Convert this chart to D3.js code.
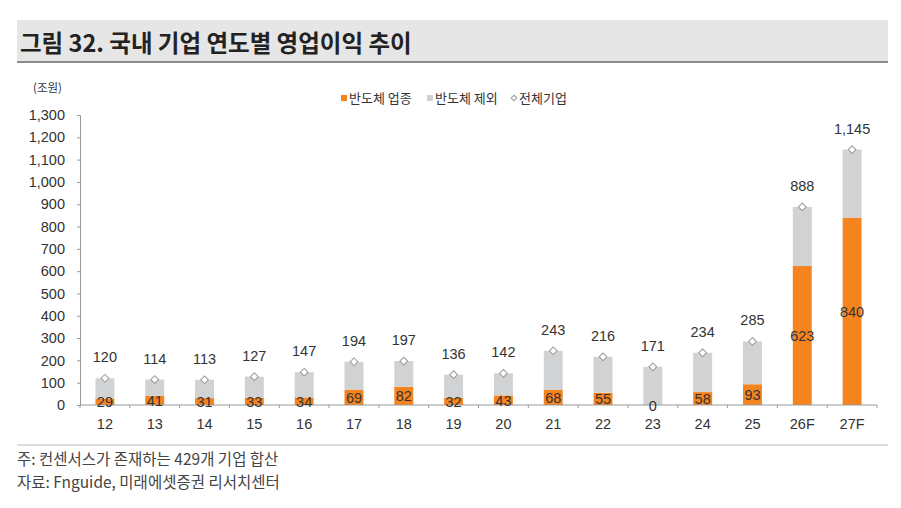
<!DOCTYPE html>
<html>
<head>
<meta charset="utf-8">
<script src="https://cdn.jsdelivr.net/npm/d3@7"></script>
<style>
  body { margin: 0; background: #fff; }
  svg { display: block; font-family: "Noto Sans CJK KR", "Liberation Sans", sans-serif; }
</style>
</head>
<body>
<div class="dataviz"><svg></svg></div>
<script>
// 국내 기업 연도별 영업이익 (조원)
const years = ["12","13","14","15","16","17","18","19","20","21","22","23","24","25","26F","27F"];
const semi  = [29, 41, 31, 33, 34, 69, 82, 32, 43, 68, 55, 0, 58, 93, 623, 840];   // 반도체 업종
const excl  = [91, 73, 82, 94, 113, 125, 115, 104, 99, 175, 161, 171, 176, 192, 265, 305]; // 반도체 제외
const total = [120, 114, 113, 127, 147, 194, 197, 136, 142, 243, 216, 171, 234, 285, 888, 1145]; // 전체기업
const yTicks = d3.range(0, 1301, 100);

const width = 901, height = 508;
const margin = {top: 115, right: 24, bottom: 103, left: 80};

const orange = "#F6841E", grey = "#D1D2D4";
const numFont = "'Liberation Sans', sans-serif";

const data = years.map((d, i) => ({name: d, semi: semi[i], excl: excl[i], total: total[i]}));

const svg = d3.select(".dataviz > svg")
    .attr("width", width)
    .attr("height", height)
    .attr("viewBox", [0, 0, width, height]);

// title band
svg.append("rect").attr("x", 17).attr("y", 20).attr("width", 871).attr("height", 42).attr("fill", "#E6E6E6");
svg.append("rect").attr("x", 17).attr("y", 61).attr("width", 871).attr("height", 2).attr("fill", "#8C8C8C");
svg.append("text")
    .attr("x", 20).attr("y", 52)
    .attr("font-size", 23.5).attr("font-weight", "bold").attr("fill", "#222")
    .text("그림 32. 국내 기업 연도별 영업이익 추이");

const x = d3.scaleBand()
    .domain(years)
    .range([margin.left, width - margin.right])
    .paddingInner(0.62).paddingOuter(0.31);

const y = d3.scaleLinear()
    .domain([0, 1300])
    .range([height - margin.bottom, margin.top]);

// y axis
const yAxis = g => g
    .attr("transform", `translate(${margin.left},0)`)
    .call(d3.axisLeft(y).tickValues(yTicks).tickSize(3).tickPadding(12).tickFormat(d3.format(",")))
    .call(g => g.selectAll("text").attr("font-size", 14.5).attr("fill", "#333")
        .attr("font-family", numFont))
    .call(g => g.selectAll("line, .domain").attr("stroke", "#999"));
svg.append("g").call(yAxis);

svg.append("text")
    .attr("x", 33).attr("y", 92)
    .attr("font-size", 11.5).attr("fill", "#333")
    .text("(조원)");

// bars
const bars = svg.append("g");
bars.selectAll("rect.semi")
  .data(data)
  .join("rect")
    .attr("class", "semi")
    .attr("x", d => x(d.name))
    .attr("width", x.bandwidth())
    .attr("y", d => y(d.semi))
    .attr("height", d => y(0) - y(d.semi))
    .attr("fill", orange);
bars.selectAll("rect.excl")
  .data(data)
  .join("rect")
    .attr("class", "excl")
    .attr("x", d => x(d.name))
    .attr("width", x.bandwidth())
    .attr("y", d => y(d.semi + d.excl))
    .attr("height", d => y(d.semi) - y(d.semi + d.excl))
    .attr("fill", grey);

// x axis (tick marks between categories)
const xAxisG = svg.append("g").attr("transform", `translate(0,${y(0)})`);
xAxisG.append("line")
    .attr("x1", margin.left).attr("x2", width - margin.right)
    .attr("stroke", "#999");
const step = x.step();
xAxisG.selectAll("line.tk")
  .data(d3.range(years.length + 1))
  .join("line")
    .attr("class", "tk")
    .attr("x1", i => margin.left + i * step)
    .attr("x2", i => margin.left + i * step)
    .attr("y1", 0).attr("y2", 3)
    .attr("stroke", "#999");
xAxisG.selectAll("text")
  .data(data)
  .join("text")
    .attr("x", d => x(d.name) + x.bandwidth() / 2)
    .attr("y", 24)
    .attr("text-anchor", "middle")
    .attr("font-size", 14.5).attr("fill", "#333")
    .attr("font-family", numFont)
    .text(d => d.name);

// 전체기업 markers
svg.append("g").selectAll("path")
  .data(data)
  .join("path")
    .attr("transform", d => `translate(${x(d.name) + x.bandwidth() / 2},${y(d.total)}) rotate(45)`)
    .attr("d", d3.symbol(d3.symbolSquare, 30))
    .attr("fill", "#fff")
    .attr("stroke", "#9a9a9a")
    .attr("stroke-width", 1);

// labels
svg.append("g").selectAll("text")
  .data(data)
  .join("text")
    .attr("x", d => x(d.name) + x.bandwidth() / 2)
    .attr("y", d => y(d.total) - 16)
    .attr("text-anchor", "middle")
    .attr("font-size", 14.5).attr("fill", "#333")
    .attr("font-family", numFont)
    .text(d => d3.format(",")(d.total));

svg.append("g").selectAll("text")
  .data(data)
  .join("text")
    .attr("x", d => x(d.name) + x.bandwidth() / 2)
    .attr("y", d => (y(0) + y(d.semi)) / 2 + 5.5)
    .attr("text-anchor", "middle")
    .attr("font-size", 14.5).attr("fill", "#333")
    .attr("font-family", numFont)
    .text(d => d.semi);

// legend
const legend = [
  {label: "반도체 업종", type: "sq", color: orange, x: 341},
  {label: "반도체 제외", type: "sq", color: grey, x: 427},
  {label: "전체기업", type: "dia", x: 511}
];
const lg = svg.append("g").selectAll("g")
  .data(legend)
  .join("g")
    .attr("transform", d => `translate(${d.x},98)`);
lg.filter(d => d.type === "sq").append("rect")
    .attr("x", 0).attr("y", -3).attr("width", 6).attr("height", 6)
    .attr("fill", d => d.color);
lg.filter(d => d.type === "dia").append("path")
    .attr("transform", "translate(3,0) rotate(45)")
    .attr("d", d3.symbol(d3.symbolSquare, 16))
    .attr("fill", "#fff").attr("stroke", "#999");
lg.append("text")
    .attr("x", 8).attr("y", 4.5)
    .attr("font-size", 13).attr("fill", "#333")
    .text(d => d.label);

// footer
svg.append("line")
    .attr("x1", 17).attr("x2", 888).attr("y1", 445).attr("y2", 445)
    .attr("stroke", "#BDBDBD").attr("stroke-width", 1.2);
svg.append("text")
    .attr("x", 17).attr("y", 465)
    .attr("font-size", 15.5).attr("fill", "#444")
    .text("주: 컨센서스가 존재하는 429개 기업 합산");
svg.append("text")
    .attr("x", 17).attr("y", 488)
    .attr("font-size", 15.5).attr("fill", "#444")
    .text("자료: Fnguide, 미래에셋증권 리서치센터");
</script>
</body>
</html>
